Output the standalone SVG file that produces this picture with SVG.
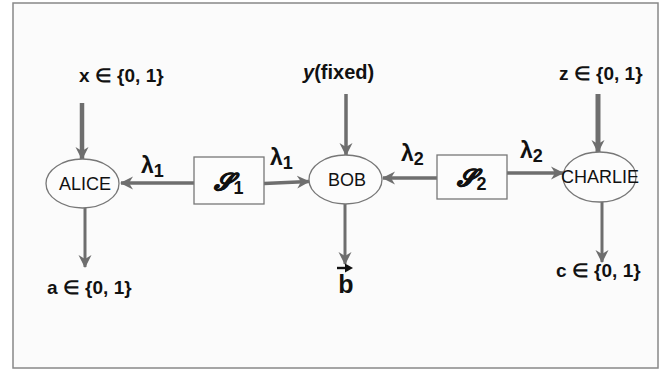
<svg xmlns="http://www.w3.org/2000/svg" width="663" height="371" viewBox="0 0 663 371">
<defs>
<marker id="ah" markerUnits="userSpaceOnUse" markerWidth="14" markerHeight="14" refX="12" refY="7" orient="auto">
<path d="M0,0.5 L13,7 L0,13.5 L4,7 z" fill="#6e6e6e"/>
</marker>
<style>
.lbl{font-family:"Liberation Sans",Arial,sans-serif;font-weight:bold;font-size:19px;fill:#111}
.node{font-family:"Liberation Sans",Arial,sans-serif;font-size:18px;fill:#111;text-anchor:middle}
.lam{font-family:"Liberation Sans",Arial,sans-serif;font-weight:bold;font-size:23px;fill:#111}
.sub{font-size:18px}
.scr{font-family:"DejaVu Serif","Liberation Serif",serif;font-weight:bold;font-style:italic;font-size:24px;fill:#111;text-anchor:middle;stroke:#111;stroke-width:0.6}
.ell{fill:#fcfcfc;stroke:#777;stroke-width:1.3}
.box{fill:#fcfcfc;stroke:#777;stroke-width:1.3}
.con{stroke:#6e6e6e;fill:none;marker-end:url(#ah)}
</style>
</defs>
<rect x="13" y="3" width="645" height="365" fill="#fbfbfb" stroke="#888" stroke-width="1.5"/>
<g id="connectors">
<line class="con" x1="82" y1="103" x2="82" y2="159" stroke-width="4.5"/>
<line class="con" x1="85" y1="208" x2="85" y2="267" stroke-width="3"/>
<line class="con" x1="194" y1="183" x2="121" y2="183" stroke-width="3.5"/>
<line class="con" x1="264" y1="183.5" x2="309" y2="181.5" stroke-width="3.5"/>
<line class="con" x1="346" y1="94" x2="346" y2="155" stroke-width="3.5"/>
<line class="con" x1="345" y1="204" x2="345" y2="264" stroke-width="3"/>
<line class="con" x1="437" y1="178" x2="383" y2="178" stroke-width="3.5"/>
<line class="con" x1="507" y1="173" x2="563" y2="173" stroke-width="3.5"/>
<line class="con" x1="598" y1="94" x2="598" y2="152" stroke-width="5"/>
<line class="con" x1="602" y1="202" x2="602" y2="262" stroke-width="3"/>
</g>
<g id="alice">
<ellipse class="ell" cx="82.5" cy="183.5" rx="36.5" ry="24.5"/>
<text class="node" x="85" y="190">ALICE</text>
</g>
<g id="s1">
<rect class="box" x="194" y="157" width="70" height="47"/>
<text class="scr" x="229" y="190">𝓢<tspan class="sub" font-style="normal" font-family="Liberation Sans, sans-serif" stroke-width="0" dy="4">1</tspan></text>
</g>
<g id="bob">
<ellipse class="ell" cx="345.5" cy="179.5" rx="36.5" ry="24.5"/>
<text class="node" x="347" y="186">BOB</text>
</g>
<g id="s2">
<rect class="box" x="437" y="155" width="70" height="44"/>
<text class="scr" x="472" y="186">𝓢<tspan class="sub" font-style="normal" font-family="Liberation Sans, sans-serif" stroke-width="0" dy="4">2</tspan></text>
</g>
<g id="charlie">
<ellipse class="ell" cx="599.5" cy="177" rx="36.5" ry="25"/>
<text class="node" x="600" y="183">CHARLIE</text>
</g>
<g id="labels">
<text class="lbl" x="79" y="82">x ∈ {0, 1}</text>
<text class="lbl" x="303" y="79" style="font-size:20px"><tspan font-style="italic">y</tspan>(fixed)</text>
<text class="lbl" x="559" y="80">z ∈ {0, 1}</text>
<text class="lbl" x="47" y="294">a ∈ {0, 1}</text>
<text class="lbl" x="556" y="277">c ∈ {0, 1}</text>
<path d="M337,268 L347,268" stroke="#111" stroke-width="2.4" fill="none"/>
<path d="M345,263.5 L353,268 L345,272.5 z" fill="#111"/>
<text class="lbl" x="346" y="293" text-anchor="middle" style="font-size:25px">b</text>
<text class="lam" x="141" y="173">λ<tspan class="sub" dy="4">1</tspan></text>
<text class="lam" x="270" y="165">λ<tspan class="sub" dy="4">1</tspan></text>
<text class="lam" x="401" y="161">λ<tspan class="sub" dy="4">2</tspan></text>
<text class="lam" x="520" y="158">λ<tspan class="sub" dy="4">2</tspan></text>
</g>
</svg>
